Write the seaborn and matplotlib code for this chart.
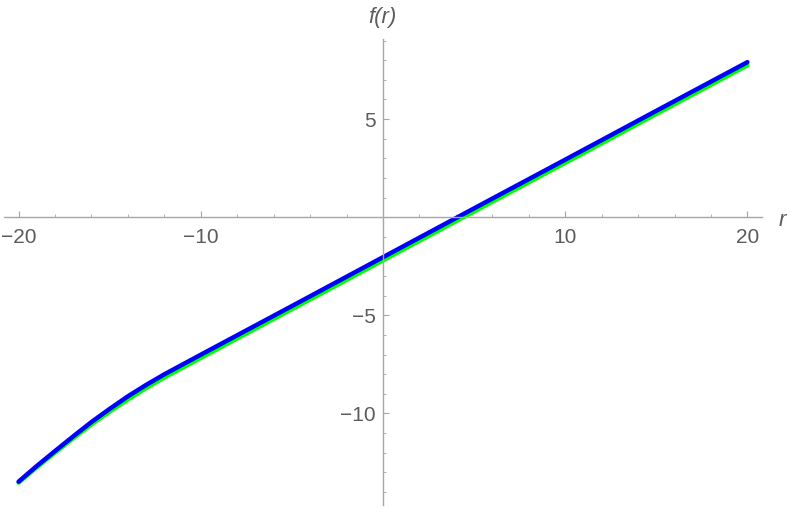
import numpy as np
import pandas as pd
import seaborn as sns
import matplotlib.pyplot as plt
from matplotlib.ticker import MultipleLocator, FixedLocator

# values
r_vals = [-20, -19, -18, -17, -16, -15, -14, -13, -12, -10, -5, 0, 5, 10, 15, 20]
f_blue = [-13.48, -12.68, -11.92, -11.17, -10.44, -9.77, -9.13, -8.55, -8.01,
          -7.01, -4.53, -2.04, 0.45, 2.93, 5.42, 7.90]
f_green = [-13.53, -12.75, -12.00, -11.27, -10.56, -9.91, -9.29, -8.71, -8.17,
           -7.17, -4.69, -2.20, 0.29, 2.77, 5.26, 7.74]

x_major = [-20, -10, 10, 20]
y_major = [-10, -5, 5]
x_lim = (-20.8, 20.8)
y_lim = (-14.67, 9.08)

axis_gray = "#a6a6a6"
text_gray = "#5c5c5c"

sns.set_style("white")
plt.rcParams['font.family'] = ['Liberation Sans', 'DejaVu Sans']

df = pd.DataFrame({"r": r_vals + r_vals,
                   "f": f_green + f_blue,
                   "curve": ["green"] * len(r_vals) + ["blue"] * len(r_vals)})

fig = plt.figure(figsize=(7.9, 5.09), dpi=100)
ax = fig.add_axes([4 / 790, 4 / 509, 758 / 790, 466 / 509])

sns.lineplot(data=df, x="r", y="f", hue="curve",
             palette={"green": "#00ff00", "blue": "#0000ff"},
             linewidth=3.2, legend=False, ax=ax, sort=False)

ax.set_xlim(*x_lim)
ax.set_ylim(*y_lim)

# mathematica style axes through the origin
for side in ["top", "right"]:
    ax.spines[side].set_visible(False)
for side in ["left", "bottom"]:
    ax.spines[side].set_position("zero")
    ax.spines[side].set_color(axis_gray)
    ax.spines[side].set_linewidth(1.0)

ax.xaxis.set_major_locator(FixedLocator(x_major))
ax.yaxis.set_major_locator(FixedLocator(y_major))
ax.xaxis.set_minor_locator(MultipleLocator(2))
ax.yaxis.set_minor_locator(MultipleLocator(1))
ax.set_xticklabels([f"\u2212{abs(v)}" if v < 0 else str(v) for v in x_major])
ax.set_yticklabels([f"\u2212{abs(v)}" if v < 0 else str(v) for v in y_major])

ax.tick_params(axis="both", which="both", bottom=True, left=True)
ax.tick_params(axis="both", which="major", direction="in", length=4.5, width=0.8,
               color=axis_gray, labelcolor=text_gray, labelsize=15)
ax.tick_params(axis="both", which="minor", direction="in", length=2.5, width=0.6,
               color=axis_gray)
ax.tick_params(axis="x", which="major", pad=8)
ax.tick_params(axis="y", which="major", pad=5)

ax.set_xlabel("")
ax.set_ylabel("")
fig.text(782 / 790, 1 - 220 / 509, "r", fontsize=16, fontstyle="italic",
         color=text_gray, ha="center", va="center")
fig.text(382 / 790, 1 - 17 / 509, "f(r)", fontsize=16, fontstyle="italic",
         color=text_gray, ha="center", va="center")

fig.savefig("out.png", dpi=100)
